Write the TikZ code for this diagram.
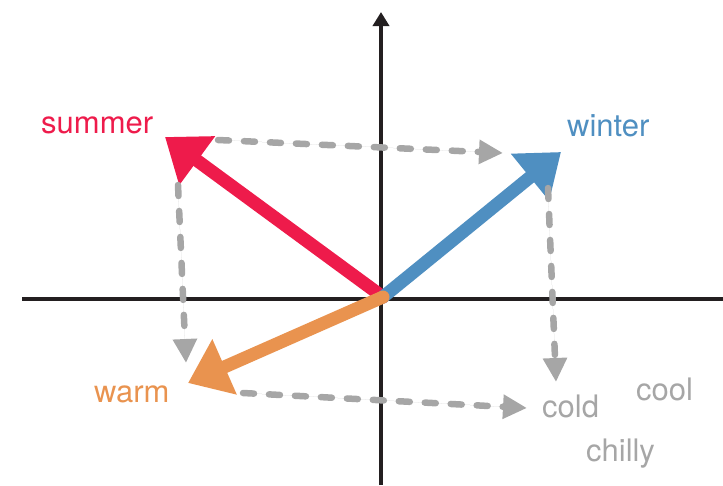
\documentclass[tikz,border=0pt]{standalone}
\usepackage{fontspec}
\setmainfont{TeX Gyre Heros}
\usetikzlibrary{arrows.meta}

\definecolor{summerred}{HTML}{EE1B4B}
\definecolor{winterblue}{HTML}{4F8FC1}
\definecolor{warmorange}{HTML}{E9934F}
\definecolor{projgray}{HTML}{A6A6A6}
\definecolor{axisblack}{HTML}{231F20}

\begin{document}
\begin{tikzpicture}[x=1pt,y=-1pt,
  axis/.style={line width=4pt,draw=axisblack},
  vec/.style={line width=13pt,line cap=round,-{Triangle[length=40pt,width=58pt]}},
  proj/.style={line width=6.5pt,line cap=round,dash pattern=on 11pt off 15pt,draw=projgray,
    -{Triangle[length=24pt,width=23pt]}},
  word/.style={font=\fontsize{31}{31}\selectfont,anchor=base west,inner sep=0pt}]
  \useasboundingbox (0,0) rectangle (723,485);

  % axes
  \draw[axis] (22,299) -- (723,299);
  \draw[axis,-{Triangle[length=14pt,width=16pt]}] (381,485) -- (381,12);

  % word vectors
  \coordinate (origin) at (383,297);
  \coordinate (summer tip) at (165,137);
  \coordinate (winter tip) at (561,152);
  \coordinate (warm tip) at (188,383);
  \draw[vec,draw=summerred,fill=summerred] (origin) -- (summer tip);
  \draw[vec,draw=winterblue,fill=winterblue] (origin) -- (winter tip);
  \draw[vec,draw=warmorange,fill=warmorange] (origin) -- (warm tip);

  % labels
  \node[word,text=summerred] (summer) at (41,133) {summer};
  \node[word,text=winterblue] (winter) at (567,136) {winter};
  \node[word,text=warmorange] (warm) at (94,402) {warm};
  \node[word,text=projgray] (cold) at (542,417) {cold};
  \node[word,text=projgray] (cool) at (636,400) {cool};
  \node[word,text=projgray] (chilly) at (586,461) {chilly};

  % analogy
  \coordinate (a1) at (218,140);
  \coordinate (a2) at (503,153);
  \coordinate (b1) at (178,185);
  \coordinate (b2) at (186,363);
  \coordinate (c1) at (243,393);
  \coordinate (c2) at (527,408);
  \coordinate (d1) at (548,188);
  \coordinate (d2) at (556,382);
  \draw[proj,fill=projgray] (a1) -- (a2);
  \draw[proj,fill=projgray] (b1) -- (b2);
  \draw[proj,fill=projgray] (c1) -- (c2);
  \draw[proj,fill=projgray] (d1) -- (d2);
\end{tikzpicture}
\end{document}
